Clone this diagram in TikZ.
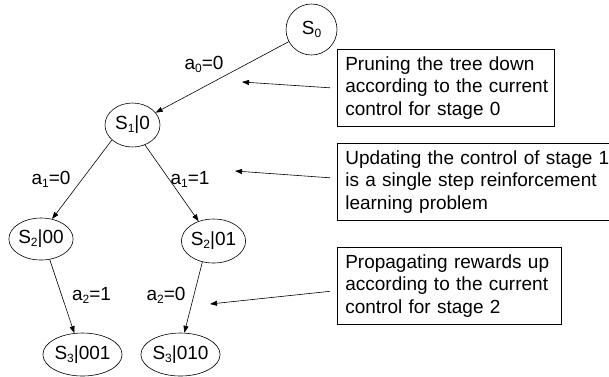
\documentclass[tikz,border=0pt]{standalone}
\usepackage{fontspec}
\setmainfont{Liberation Sans}
\usetikzlibrary{shapes.geometric,arrows.meta}
\newcommand{\lsub}[1]{\raisebox{-3pt}{\fontsize{12}{12}\selectfont #1}}
\newcommand{\noteline}[1]{\mbox{#1}}
\tikzset{
  state/.style={ellipse,draw,line width=0.6pt,inner sep=0pt},
  note/.style={draw,line width=0.6pt,anchor=north west,align=left,
    inner xsep=8pt,inner ysep=0pt,minimum height=77pt},
  lbl/.style={inner sep=0pt}
}
\hbadness=10000
\hfuzz=50pt
\begin{document}
\begin{tikzpicture}[x=1pt,y=-1pt,font=\fontsize{19}{22.3}\selectfont,
    >={Triangle[length=7pt,width=5pt]}]
      \useasboundingbox (0,0) rectangle (609,376);
      \draw
        (311.5,29.5) node[state,minimum width=51pt,minimum height=51pt] (s0){S\lsub{0}}
        (132.5,125) node[state,minimum width=55pt,minimum height=44pt] (s10){S\lsub{1}|0}
        (41,239) node[state,minimum width=58pt,minimum height=42pt] (s200){S\lsub{2}|00}
        (213.5,241) node[state,minimum width=59pt,minimum height=44pt] (s201){S\lsub{2}|01}
        (82.5,354.5) node[state,minimum width=71pt,minimum height=43pt] (s3001){S\lsub{3}|001}
        (180.5,354.5) node[state,minimum width=69pt,minimum height=43pt] (s3010){S\lsub{3}|010};
      \draw
        (204,64) node[lbl] (l0){a\lsub{0}=0}
        (51,179) node[lbl] (l10){a\lsub{1}=0}
        (190,179) node[lbl] (l11){a\lsub{1}=1}
        (91.5,295) node[lbl] (l21){a\lsub{2}=1}
        (166,295) node[lbl] (l20){a\lsub{2}=0};
      \draw
        (337,49) node[note,text width=201pt] (n0){\noteline{Pruning the tree down}\\\noteline{according to the current}\\\noteline{control for stage 0}}
        (337,143) node[note,text width=262pt] (n1){\noteline{Updating the control of stage 1}\\\noteline{is a single step reinforcement}\\\noteline{learning problem}}
        (337,247) node[note,text width=208pt] (n2){\noteline{Propagating rewards up}\\\noteline{according to the current}\\\noteline{control for stage 2}};
      \coordinate (t0) at (242,82);
      \coordinate (t1) at (235,171);
      \coordinate (t2) at (210,304);
      \begin{scope}[->,line width=0.6pt]
        \draw (s0) to (s10);
        \draw (s10.216) to (s200.61);
        \draw (s10.302) to (s201.127);
        \draw (s200.293) to (s3001.111);
        \draw (s201.242) to (s3010.80);
        \draw ([xshift=-7pt]n0.west) to (t0);
        \draw ([xshift=-7pt,yshift=4pt]n1.west) to (t1);
        \draw ([xshift=-7pt,yshift=-5.5pt]n2.west) to (t2);
      \end{scope}
    \end{tikzpicture}
\end{document}
